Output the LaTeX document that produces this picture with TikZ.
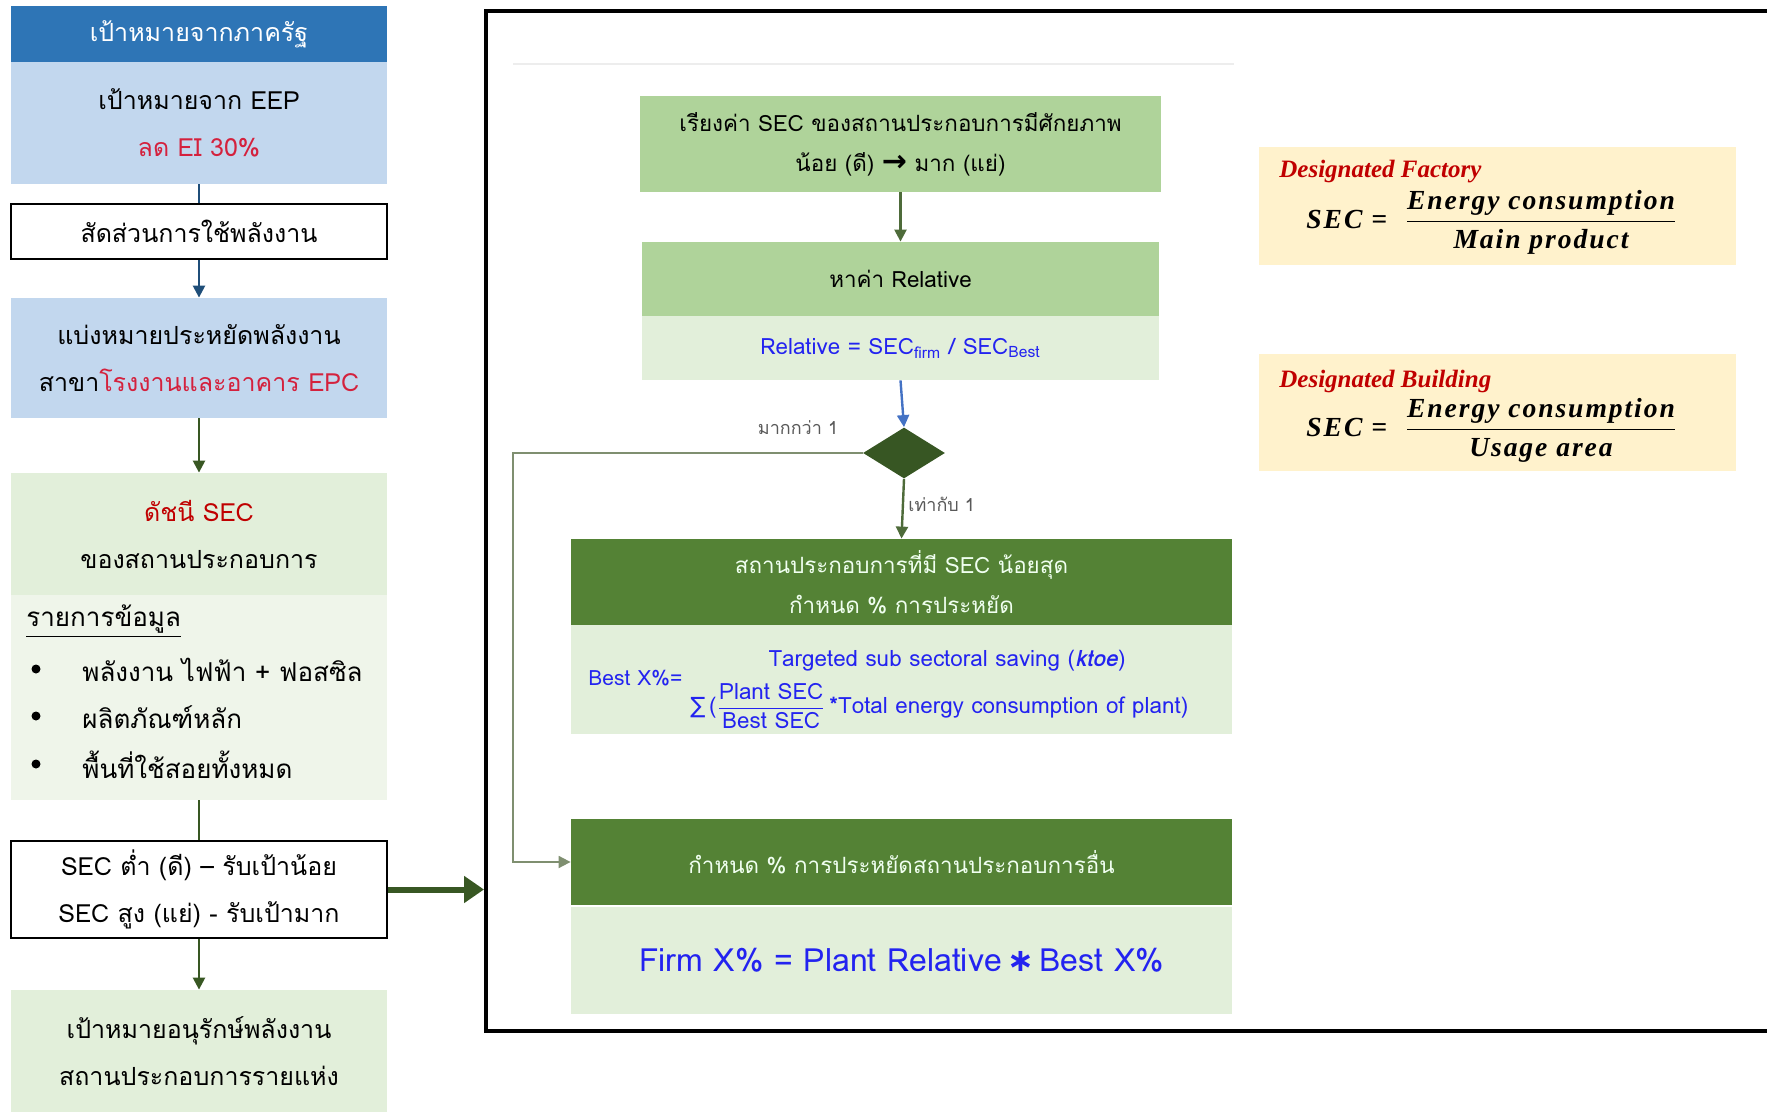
\documentclass[tikz,border=0pt]{standalone}
\usepackage{fontspec}
\usepackage{amsmath}
\newfontfamily\thai[Script=Thai]{Loma}
\newfontfamily\serifbi[LetterSpace=7]{Liberation Serif}
\newfontfamily\serifttl{Liberation Serif}
\newfontfamily\symfont{DejaVu Sans}
\usetikzlibrary{arrows.meta,shapes.geometric,calc}

\definecolor{hdrblue}{HTML}{2E75B6}
\definecolor{paleblue}{HTML}{C2D7EE}
\definecolor{navyarrow}{HTML}{1F4E79}
\definecolor{palegreen}{HTML}{E2EFDA}
\definecolor{palergreen}{HTML}{EFF5EA}
\definecolor{midgreen}{HTML}{AFD39A}
\definecolor{darkgreen}{HTML}{548235}
\definecolor{diamondgreen}{HTML}{375623}
\definecolor{arrowgreen}{HTML}{385723}
\definecolor{greyarrow}{HTML}{4E6B3A}
\definecolor{loopline}{HTML}{7F8F70}
\definecolor{bluearrow}{HTML}{4472C4}
\definecolor{sand}{HTML}{FFF2CC}
\definecolor{crimson}{HTML}{D4213D}
\definecolor{darkred}{HTML}{C00000}
\definecolor{formulablue}{HTML}{2323F0}
\definecolor{labelgrey}{HTML}{595959}

\tikzset{
  box/.style={inner sep=0pt, align=center, font=\thai\fontsize{12.5}{23.5}\selectfont},
  cbox/.style={inner sep=0pt, align=center, font=\thai\fontsize{11.2}{20}\selectfont},
  flow/.style={-{Triangle[width=6pt,length=6pt]}, line width=1.2pt},
  plain/.style={line width=1.2pt},
  secdef/.style={inner sep=0pt, anchor=west, font=\serifbi\bfseries\itshape\fontsize{13.8}{15}\selectfont},
  sectitle/.style={anchor=west, inner sep=0pt, font=\serifttl\bfseries\itshape\fontsize{12.5}{14}\selectfont, text=darkred},
}

\begin{document}
\begin{tikzpicture}[x=0.5pt,y=-0.5pt]
\useasboundingbox (0,0) rectangle (1767,1112);

% ---------------- left column ----------------
\node[box, fill=hdrblue, text=white, minimum width=188pt, minimum height=28pt] (hdr) at (199,34) {เป้าหมายจากภาครัฐ};
\node[box, fill=paleblue, minimum width=188pt, minimum height=61pt] (eep) at (199,123)
  {เป้าหมายจาก EEP\\\textcolor{crimson}{ลด EI 30\%}};
\node[box, draw=black, line width=0.9pt, fill=white, minimum width=188pt, minimum height=27.5pt] (ratio) at (199,231.5)
  {สัดส่วนการใช้พลังงาน};
\node[box, fill=paleblue, minimum width=188pt, minimum height=60pt] (divide) at (199,358)
  {แบ่งหมายประหยัดพลังงาน\\สาขา\textcolor{crimson}{โรงงานและอาคาร EPC}};
\node[box, fill=palegreen, minimum width=188pt, minimum height=61pt] (secidx) at (199,534)
  {\textcolor{darkred}{ดัชนี SEC}\\ของสถานประกอบการ};
\node[box, fill=palergreen, minimum width=188pt, minimum height=102.5pt] (datalist) at (199,697.5) {};
\node[box, anchor=west, font=\thai\fontsize{13}{15}\selectfont] (listhead) at (26,621) {\underline{รายการข้อมูล}};
\node[box, anchor=west, font=\thai\fontsize{13}{15}\selectfont] (item1) at (82,670) {พลังงาน ไฟฟ้า + ฟอสซิล};
\node[box, anchor=west, font=\thai\fontsize{13}{15}\selectfont] (item2) at (82,717) {ผลิตภัณฑ์หลัก};
\node[box, anchor=west, font=\thai\fontsize{13}{15}\selectfont] (item3) at (82,765) {พื้นที่ใช้สอยทั้งหมด};
\foreach \yy in {669,716,764} \fill (36,\yy) circle (4.5);
\node[box, draw=black, line width=0.9pt, fill=white, minimum width=188pt, minimum height=48.5pt] (secrule) at (199,889.5)
  {SEC ต่ำ (ดี) – รับเป้าน้อย\\SEC สูง (แย่) - รับเป้ามาก};
\node[box, fill=palegreen, minimum width=188pt, minimum height=61pt] (final) at (199,1051)
  {เป้าหมายอนุรักษ์พลังงาน\\สถานประกอบการรายแห่ง};

\draw[plain, navyarrow] (eep.south) -- (ratio.north);
\draw[flow, navyarrow] (ratio.south) -- (divide.north);
\draw[flow, arrowgreen] (divide.south) -- (secidx.north);
\draw[plain, arrowgreen] (datalist.south) -- (secrule.north);
\draw[flow, arrowgreen] (secrule.south) -- (final.north);

% ---------------- frame ----------------
\draw[line width=1.6pt] (1767,11) -- (486,11) -- (486,1031) -- (1767,1031);
\draw[black!7, line width=0.6pt] (513,64) -- (1234,64);
\coordinate (frameL) at (484,889.5);
\draw[-{Triangle[width=13pt,length=10pt]}, line width=3pt, arrowgreen] (secrule.east) -- (frameL);

% ---------------- centre flow ----------------
\node[cbox, fill=midgreen, minimum width=260.5pt, minimum height=48pt] (rank) at (900.5,144)
  {เรียงค่า SEC ของสถานประกอบการมีศักยภาพ\\น้อย (ดี) {\symfont\bfseries\fontsize{15}{15}\selectfont →} มาก (แย่)};
\node[cbox, fill=midgreen, minimum width=258.5pt, minimum height=37pt] (rel) at (900.5,279) {หาค่า Relative};
\node[cbox, fill=palegreen, minimum width=258.5pt, minimum height=32pt, text=formulablue] (relf) at (900.5,348)
  {Relative = SEC\textsubscript{firm} / SEC\textsubscript{Best}};
\node[diamond, fill=diamondgreen, minimum width=41pt, minimum height=25.5pt, inner sep=0pt] (dec) at (904,453) {};
\node[cbox, text=labelgrey, font=\thai\fontsize{9}{11}\selectfont] (gt) at (798,428) {มากกว่า 1};
\node[cbox, text=labelgrey, font=\thai\fontsize{9}{11}\selectfont, anchor=west] (eq) at (908,504) {เท่ากับ 1};

\node[cbox, fill=darkgreen, text=white!94!green, minimum width=330.5pt, minimum height=43pt] (best) at (901.5,582)
  {สถานประกอบการที่มี  SEC น้อยสุด\\กำหนด  \% การประหยัด};
\node[cbox, fill=palegreen, minimum width=330.5pt, minimum height=54.5pt] (bestf) at (901.5,679.5) {};
\node[cbox, text=formulablue, font=\thai\fontsize{10.5}{12}\selectfont, anchor=west] (bx) at (588,678) {Best X\%=};
\node[cbox, text=formulablue, font=\thai\fontsize{11.2}{12}\selectfont] (tgt) at (947,661)
  {Targeted sub sectoral saving (\textbf{\textit{ktoe}})};
\node[cbox, text=formulablue, font=\thai\fontsize{11.2}{12}\selectfont, anchor=west] (sumf) at (690,706)
  {{\symfont ∑}\,($\genfrac{}{}{0.5pt}{0}{\text{Plant SEC}}{\text{Best SEC}}$\,\textbf{*}Total energy consumption of plant)};

\node[cbox, fill=darkgreen, text=white!94!green, minimum width=330.5pt, minimum height=43pt] (other) at (901.5,862)
  {กำหนด  \% การประหยัดสถานประกอบการอื่น};
\node[cbox, fill=palegreen, minimum width=330.5pt, minimum height=53.5pt, text=formulablue,
      font=\thai\fontsize{16}{18}\selectfont] (firm) at (901.5,960)
  {Firm X\% = Plant Relative\,{\symfont\bfseries ∗}\,Best X\%};

\draw[flow, greyarrow] (rank.south) -- (rel.north);
\draw[flow, bluearrow] (relf.south) -- (dec.north);
\draw[flow, greyarrow] (dec.south) -- (best.north);
\draw[-{Triangle[width=6pt,length=6pt]}, line width=0.9pt, loopline]
  (dec.west) -- (513,453) -- (513,862) -- (other.west);

% ---------------- SEC definitions ----------------
\node[fill=sand, minimum width=238.5pt, minimum height=59pt, inner sep=0pt] (factory) at (1497.5,206) {};
\node[sectitle] (fttl) at (1279,172) {Designated Factory};
\node[secdef] (ff) at (1306,222)
  {SEC =\ \ $\genfrac{}{}{0.6pt}{0}{\text{Energy consumption}}{\text{Main product}}$};

\node[fill=sand, minimum width=238.5pt, minimum height=58.5pt, inner sep=0pt] (building) at (1497.5,412.5) {};
\node[sectitle] (bttl) at (1279,381) {Designated Building};
\node[secdef] (bf) at (1306,430)
  {SEC =\ \ $\genfrac{}{}{0.6pt}{0}{\text{Energy consumption}}{\text{Usage area}}$};

\end{tikzpicture}
\end{document}
